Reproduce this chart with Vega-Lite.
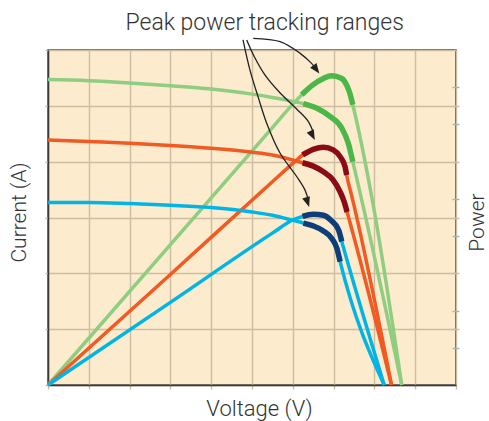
{
  "$schema": "https://vega.github.io/schema/vega-lite/v6.json",
  "width": 408,
  "height": 335,
  "autosize": {"type": "none"},
  "padding": {"left": 48, "top": 50, "right": 33, "bottom": 36},
  "background": "white",
  "config": {
    "view": {"fill": "#fcebcd", "stroke": "#3a3a3a", "strokeWidth": 1.5},
    "font": "Roboto",
    "axis": {
      "labels": false,
      "titleFont": "Roboto",
      "titleFontSize": 21,
      "titleFontWeight": 300,
      "titleColor": "#333333",
      "gridColor": "#cdbda2",
      "gridWidth": 1.4,
      "tickColor": "#cdbda2",
      "tickWidth": 1.4,
      "domainColor": "#3a3a3a",
      "domainWidth": 1.5
    }
  },
  "datasets": {
    "curves": [
      {"level": "high", "kind": "IV", "v": 0, "i": 5.47, "t": false},
      {"level": "high", "kind": "IV", "v": 1, "i": 5.45, "t": false},
      {"level": "high", "kind": "IV", "v": 2, "i": 5.41, "t": false},
      {"level": "high", "kind": "IV", "v": 3, "i": 5.36, "t": false},
      {"level": "high", "kind": "IV", "v": 4, "i": 5.3, "t": false},
      {"level": "high", "kind": "IV", "v": 5, "i": 5.21, "t": false},
      {"level": "high", "kind": "IV", "v": 5.5, "i": 5.15, "t": false},
      {"level": "high", "kind": "IV", "v": 6, "i": 5.08, "t": false},
      {"level": "high", "kind": "IV", "v": 6.26, "i": 5.04, "t": true},
      {"level": "high", "kind": "IV", "v": 6.58, "i": 4.96, "t": true},
      {"level": "high", "kind": "IV", "v": 6.91, "i": 4.81, "t": true},
      {"level": "high", "kind": "IV", "v": 7.2, "i": 4.6, "t": true},
      {"level": "high", "kind": "IV", "v": 7.36, "i": 4.33, "t": true},
      {"level": "high", "kind": "IV", "v": 7.47, "i": 4.0, "t": true},
      {"level": "high", "kind": "IV", "v": 8.67, "i": 0, "t": false},
      {"level": "high", "kind": "P", "v": 0, "i": 0, "t": false},
      {"level": "high", "kind": "P", "v": 3, "i": 2.515, "t": false},
      {"level": "high", "kind": "P", "v": 5.5, "i": 4.61, "t": false},
      {"level": "high", "kind": "P", "v": 6, "i": 5.03, "t": false},
      {"level": "high", "kind": "P", "v": 6.22, "i": 5.2, "t": true},
      {"level": "high", "kind": "P", "v": 6.5, "i": 5.38, "t": true},
      {"level": "high", "kind": "P", "v": 6.75, "i": 5.49, "t": true},
      {"level": "high", "kind": "P", "v": 6.95, "i": 5.54, "t": true},
      {"level": "high", "kind": "P", "v": 7.2, "i": 5.49, "t": true},
      {"level": "high", "kind": "P", "v": 7.32, "i": 5.37, "t": true},
      {"level": "high", "kind": "P", "v": 7.4, "i": 5.22, "t": true},
      {"level": "high", "kind": "P", "v": 7.47, "i": 5.02, "t": true},
      {"level": "high", "kind": "P", "v": 7.95, "i": 3.31, "t": false},
      {"level": "high", "kind": "P", "v": 8.67, "i": 0, "t": false},
      {"level": "mid", "kind": "IV", "v": 0, "i": 4.39, "t": false},
      {"level": "mid", "kind": "IV", "v": 1, "i": 4.36, "t": false},
      {"level": "mid", "kind": "IV", "v": 2, "i": 4.33, "t": false},
      {"level": "mid", "kind": "IV", "v": 3, "i": 4.29, "t": false},
      {"level": "mid", "kind": "IV", "v": 4, "i": 4.24, "t": false},
      {"level": "mid", "kind": "IV", "v": 5, "i": 4.17, "t": false},
      {"level": "mid", "kind": "IV", "v": 5.5, "i": 4.12, "t": false},
      {"level": "mid", "kind": "IV", "v": 6, "i": 4.03, "t": false},
      {"level": "mid", "kind": "IV", "v": 6.24, "i": 3.98, "t": true},
      {"level": "mid", "kind": "IV", "v": 6.5, "i": 3.92, "t": true},
      {"level": "mid", "kind": "IV", "v": 6.75, "i": 3.82, "t": true},
      {"level": "mid", "kind": "IV", "v": 6.99, "i": 3.67, "t": true},
      {"level": "mid", "kind": "IV", "v": 7.16, "i": 3.46, "t": true},
      {"level": "mid", "kind": "IV", "v": 7.26, "i": 3.28, "t": true},
      {"level": "mid", "kind": "IV", "v": 7.33, "i": 3.1, "t": true},
      {"level": "mid", "kind": "IV", "v": 8.42, "i": 0, "t": false},
      {"level": "mid", "kind": "P", "v": 0, "i": 0, "t": false},
      {"level": "mid", "kind": "P", "v": 3, "i": 1.98, "t": false},
      {"level": "mid", "kind": "P", "v": 5.5, "i": 3.64, "t": false},
      {"level": "mid", "kind": "P", "v": 6.05, "i": 4.0, "t": false},
      {"level": "mid", "kind": "P", "v": 6.24, "i": 4.12, "t": true},
      {"level": "mid", "kind": "P", "v": 6.5, "i": 4.22, "t": true},
      {"level": "mid", "kind": "P", "v": 6.75, "i": 4.26, "t": true},
      {"level": "mid", "kind": "P", "v": 6.99, "i": 4.21, "t": true},
      {"level": "mid", "kind": "P", "v": 7.16, "i": 4.09, "t": true},
      {"level": "mid", "kind": "P", "v": 7.28, "i": 3.91, "t": true},
      {"level": "mid", "kind": "P", "v": 7.32, "i": 3.76, "t": true},
      {"level": "mid", "kind": "P", "v": 7.47, "i": 3.31, "t": false},
      {"level": "mid", "kind": "P", "v": 8.42, "i": 0, "t": false},
      {"level": "low", "kind": "IV", "v": 0, "i": 3.27, "t": false},
      {"level": "low", "kind": "IV", "v": 1, "i": 3.27, "t": false},
      {"level": "low", "kind": "IV", "v": 2, "i": 3.25, "t": false},
      {"level": "low", "kind": "IV", "v": 3, "i": 3.22, "t": false},
      {"level": "low", "kind": "IV", "v": 4, "i": 3.18, "t": false},
      {"level": "low", "kind": "IV", "v": 5, "i": 3.1, "t": false},
      {"level": "low", "kind": "IV", "v": 5.5, "i": 3.04, "t": false},
      {"level": "low", "kind": "IV", "v": 6, "i": 2.95, "t": false},
      {"level": "low", "kind": "IV", "v": 6.26, "i": 2.9, "t": true},
      {"level": "low", "kind": "IV", "v": 6.5, "i": 2.85, "t": true},
      {"level": "low", "kind": "IV", "v": 6.75, "i": 2.76, "t": true},
      {"level": "low", "kind": "IV", "v": 6.95, "i": 2.63, "t": true},
      {"level": "low", "kind": "IV", "v": 7.08, "i": 2.45, "t": true},
      {"level": "low", "kind": "IV", "v": 7.16, "i": 2.21, "t": true},
      {"level": "low", "kind": "IV", "v": 8.24, "i": 0, "t": false},
      {"level": "low", "kind": "P", "v": 0, "i": 0, "t": false},
      {"level": "low", "kind": "P", "v": 3, "i": 1.48, "t": false},
      {"level": "low", "kind": "P", "v": 5.5, "i": 2.72, "t": false},
      {"level": "low", "kind": "P", "v": 6.01, "i": 2.96, "t": false},
      {"level": "low", "kind": "P", "v": 6.24, "i": 3.02, "t": true},
      {"level": "low", "kind": "P", "v": 6.5, "i": 3.06, "t": true},
      {"level": "low", "kind": "P", "v": 6.75, "i": 3.04, "t": true},
      {"level": "low", "kind": "P", "v": 6.95, "i": 2.94, "t": true},
      {"level": "low", "kind": "P", "v": 7.12, "i": 2.78, "t": true},
      {"level": "low", "kind": "P", "v": 7.2, "i": 2.57, "t": true},
      {"level": "low", "kind": "P", "v": 8.24, "i": 0, "t": false}
    ],
    "arrows": [
      {"arrow": "a1", "v": 5.03, "i": 6.21},
      {"arrow": "a1", "v": 5.69, "i": 6.15},
      {"arrow": "a1", "v": 6.18, "i": 5.94},
      {"arrow": "a1", "v": 6.46, "i": 5.76},
      {"arrow": "a1", "v": 6.58, "i": 5.65},
      {"arrow": "a2", "v": 4.87, "i": 6.18},
      {"arrow": "a2", "v": 5.07, "i": 5.86},
      {"arrow": "a2", "v": 5.32, "i": 5.55},
      {"arrow": "a2", "v": 5.69, "i": 5.23},
      {"arrow": "a2", "v": 6.1, "i": 4.94},
      {"arrow": "a2", "v": 6.37, "i": 4.73},
      {"arrow": "a2", "v": 6.51, "i": 4.51},
      {"arrow": "a3", "v": 4.78, "i": 6.18},
      {"arrow": "a3", "v": 4.95, "i": 5.64},
      {"arrow": "a3", "v": 5.15, "i": 5.16},
      {"arrow": "a3", "v": 5.36, "i": 4.69},
      {"arrow": "a3", "v": 5.69, "i": 4.15},
      {"arrow": "a3", "v": 6.1, "i": 3.73},
      {"arrow": "a3", "v": 6.3, "i": 3.49},
      {"arrow": "a3", "v": 6.38, "i": 3.31}
    ],
    "heads": [
      {"arrow": "a1", "v": 6.65, "i": 5.58},
      {"arrow": "a2", "v": 6.54, "i": 4.39},
      {"arrow": "a3", "v": 6.4, "i": 3.19}
    ],
    "note": [
      {"label": "Peak power tracking ranges", "v": 5.31, "i": 6.36}
    ],
    "powerAxis": [
      {"p": 0},
      {"p": 6}
    ]
  },
  "layer": [
    {
      "encoding": {
        "x": {
          "field": "v",
          "type": "quantitative",
          "scale": {"domain": [0, 10], "nice": false, "zero": false},
          "axis": {
            "title": "Voltage (V)",
            "titleFontSize": 22,
            "values": [0, 1, 2, 3, 4, 5, 6, 7, 8, 9, 10],
            "grid": true,
            "tickSize": 4,
            "titlePadding": 9,
            "titleX": 211
          }
        },
        "y": {
          "field": "i",
          "type": "quantitative",
          "scale": {"domain": [0, 6], "nice": false, "zero": false},
          "axis": {
            "title": "Current (A)",
            "values": [0, 1, 2, 3, 4, 5, 6],
            "grid": true,
            "tickSize": 3,
            "titlePadding": 15,
            "titleY": 162
          }
        }
      },
      "layer": [
        {
          "data": {"name": "curves"},
          "mark": {"type": "line", "strokeWidth": 3.5, "interpolate": "monotone", "strokeCap": "butt"},
          "encoding": {
            "color": {
              "field": "level",
              "type": "nominal",
              "scale": {"domain": ["low", "mid", "high"], "range": ["#00b5e5", "#f15a22", "#8fcd80"]},
              "legend": null
            },
            "detail": {"field": "kind", "type": "nominal"}
          }
        },
        {
          "data": {"name": "curves"},
          "transform": [{"filter": "datum.t"}],
          "mark": {"type": "line", "strokeWidth": 5.5, "interpolate": "monotone", "strokeCap": "butt"},
          "encoding": {
            "color": {
              "field": "level",
              "type": "nominal",
              "scale": {"domain": ["low", "mid", "high"], "range": ["#0c3e7c", "#8a0b16", "#4bb748"]},
              "legend": null
            },
            "detail": {"field": "kind", "type": "nominal"}
          }
        },
        {
          "data": {"name": "arrows"},
          "mark": {"type": "line", "color": "#222222", "strokeWidth": 1.3, "interpolate": "catmull-rom"},
          "encoding": {
            "detail": {"field": "arrow", "type": "nominal"}
          }
        },
        {
          "data": {"name": "heads"},
          "mark": {
            "type": "point",
            "shape": "M0,0L0.8,2L-0.8,2Z",
            "filled": true,
            "color": "#222222",
            "opacity": 1,
            "size": 100
          },
          "encoding": {
            "angle": {
              "field": "arrow",
              "type": "nominal",
              "scale": {"domain": ["a1", "a2", "a3"], "range": [143, 162, 170]},
              "legend": null
            }
          }
        },
        {
          "data": {"name": "note"},
          "mark": {
            "type": "text",
            "font": "Roboto",
            "fontWeight": 300,
            "fontSize": 23,
            "color": "#333333",
            "align": "center",
            "baseline": "alphabetic"
          },
          "encoding": {
            "text": {"field": "label", "type": "nominal"}
          }
        }
      ],
      "resolve": {"scale": {"color": "independent"}}
    },
    {
      "data": {"name": "powerAxis"},
      "mark": {"type": "point", "opacity": 0},
      "encoding": {
        "y": {
          "field": "p",
          "type": "quantitative",
          "scale": {"domain": [0, 6], "nice": false, "zero": false},
          "axis": {
            "orient": "right",
            "title": "Power",
            "values": [0.667, 1, 1.333, 2, 2.667, 3, 3.333, 4, 4.667, 5, 5.333],
            "grid": false,
            "domain": false,
            "offset": -4,
            "tickSize": 7,
            "tickColor": {
              "condition": {"test": "datum.value % 1 === 0", "value": "#cdbda2"},
              "value": "#a9b0bf"
            },
            "titleAngle": -90,
            "titleBaseline": "top",
            "titlePadding": 7,
            "titleY": 172
          }
        }
      }
    }
  ],
  "resolve": {"scale": {"y": "independent"}}
}
